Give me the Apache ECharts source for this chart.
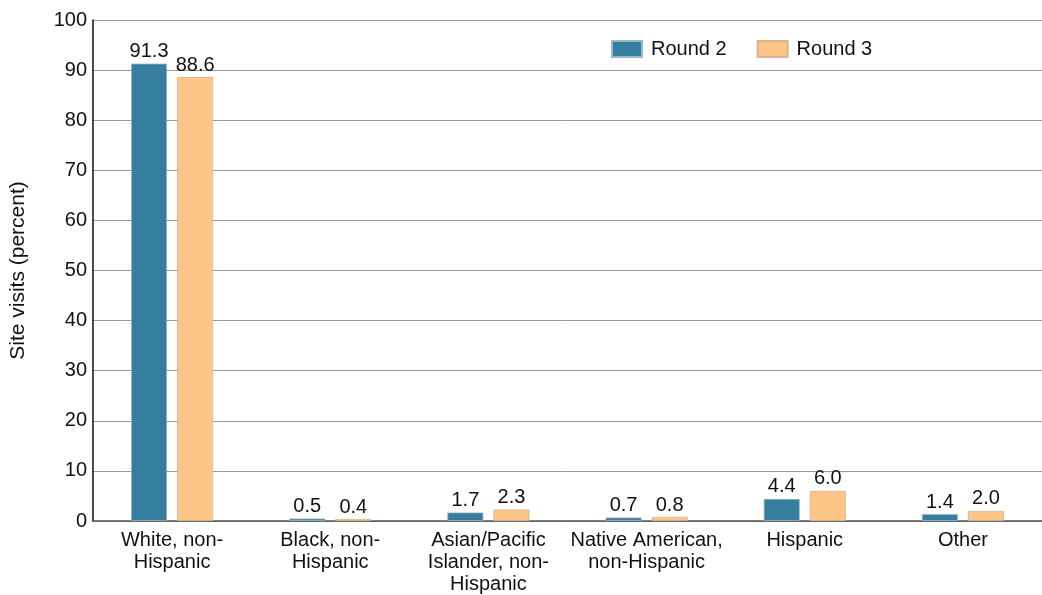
<!DOCTYPE html>
<html>
<head>
<meta charset="utf-8">
<script src="https://cdn.jsdelivr.net/npm/echarts@6/dist/echarts.min.js"></script>
<style>
  html, body { margin: 0; padding: 0; background: #fff; }
  #main { width: 1042px; height: 595px; }
</style>
</head>
<body>
<div id="main"></div>
<script>
var categories = ['White, non-\nHispanic', 'Black, non-\nHispanic', 'Asian/Pacific\nIslander, non-\nHispanic',
                  'Native American,\nnon-Hispanic', 'Hispanic', 'Other'];
var round2 = [91.3, 0.5, 1.7, 0.7, 4.4, 1.4];
var round3 = [88.6, 0.4, 2.3, 0.8, 6.0, 2.0];
var yTicks = [0, 10, 20, 30, 40, 50, 60, 70, 80, 90, 100];

var font = 'Helvetica, "Liberation Sans", Arial, sans-serif';

var labelStyle = {
    show: true,
    position: 'top',
    distance: 2,
    color: '#111',
    fontSize: 20,
    fontFamily: font,
    formatter: function (p) { return p.value.toFixed(1); }
};

echarts.init(document.getElementById('main')).setOption({
    animation: false,
    textStyle: { fontFamily: font },
    grid: { left: 86, right: 0, top: 20, bottom: 70, containLabel: false },
    legend: {
        top: 34,
        left: 606,
        icon: 'rect',
        itemWidth: 30,
        itemHeight: 16,
        itemGap: 30,
        textStyle: { fontSize: 20, color: '#111', fontFamily: font, padding: [0, 0, 0, 4] },
        data: ['Round 2', 'Round 3']
    },
    xAxis: {
        type: 'category',
        data: categories,
        axisLine: { lineStyle: { color: '#555', width: 1.5 } },
        axisTick: { show: false },
        axisLabel: { fontSize: 20, color: '#111', lineHeight: 22, margin: 8, interval: 0, fontFamily: font }
    },
    yAxis: {
        type: 'value',
        min: yTicks[0],
        max: yTicks[yTicks.length - 1],
        interval: 10,
        name: 'Site visits (percent)',
        nameLocation: 'middle',
        nameGap: 64,
        nameTextStyle: { fontSize: 21, color: '#111', fontFamily: font },
        axisLine: { show: true, lineStyle: { color: '#111', width: 1.5 } },
        axisTick: { show: false },
        axisLabel: { fontSize: 20, color: '#111', margin: 6, fontFamily: font },
        splitLine: { lineStyle: { color: '#999', width: 1 } }
    },
    series: [
        {
            name: 'Round 2',
            type: 'bar',
            data: round2,
            barWidth: 36,
            barGap: '28%',
            itemStyle: { color: '#367E9E', borderColor: '#9BB8C6', borderWidth: 0.8 },
            label: labelStyle
        },
        {
            name: 'Round 3',
            type: 'bar',
            data: round3,
            barWidth: 36,
            itemStyle: { color: '#FEC589', borderColor: '#D8B48E', borderWidth: 0.8 },
            label: labelStyle
        }
    ]
});
</script>
</body>
</html>
